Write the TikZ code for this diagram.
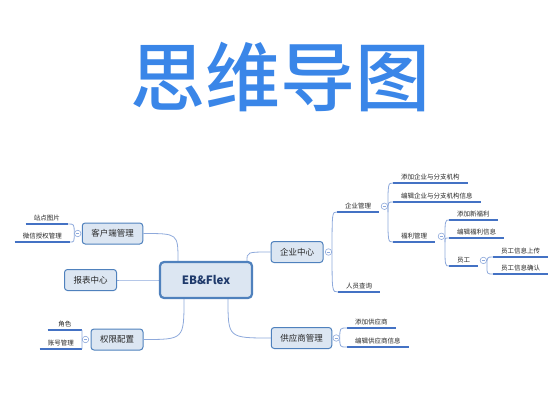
\documentclass[tikz,border=0pt]{standalone}
\usepackage{fontspec}
\setmainfont{Noto Sans CJK SC}
\newfontfamily\titlefont{Noto Sans CJK SC Medium}
\definecolor{titleblue}{RGB}{58,134,232}
\definecolor{boxfill}{RGB}{220,230,242}
\definecolor{boxdraw}{RGB}{79,129,189}
\definecolor{rootblue}{RGB}{31,58,107}
\definecolor{linkblue}{RGB}{142,169,219}
\definecolor{ulblue}{RGB}{68,114,196}

\begin{document}
\begin{tikzpicture}[x=1pt,y=-1pt,
    title/.style={text=titleblue,font=\fontsize{75}{75}\titlefont},
    root/.style={rectangle,rounded corners=4pt,draw=boxdraw,line width=2.2pt,fill=boxfill,minimum width=92pt,minimum height=36pt,text=rootblue,font=\fontsize{11.5}{12}\selectfont\bfseries},
    topic/.style={rectangle,rounded corners=3pt,draw=boxdraw,line width=1pt,fill=boxfill,minimum height=21pt,inner xsep=9pt,text=black!85,font=\fontsize{8.5}{9}\selectfont},
    leaf/.style={inner xsep=8pt,inner ysep=2.5pt,anchor=south west,text=black!85,font=\fontsize{6.5}{7}\selectfont},
    lleaf/.style={leaf,anchor=south east},
    fold/.style={circle,draw=linkblue,fill=white,line width=0.6pt,minimum size=6.5pt,inner sep=0pt,
        path picture={\draw[linkblue,line width=0.5pt] ([xshift=-1.6pt]path picture bounding box.center) -- ([xshift=1.6pt]path picture bounding box.center);}},
    branch/.style={draw=linkblue,line width=0.8pt,to path={.. controls (\tikztostart |- \tikztotarget) .. (\tikztotarget)}},
    ul/.style={draw=ulblue,line width=1.2pt}]
    \useasboundingbox (0,0) rectangle (560,420);

    \node[title] (t) at (280,77) {思维导图};

    \node[root] (c) at (206,280) {EB\&Flex};
    \node[topic] (k) at (112.5,233.5) {客户端管理};
    \node[topic] (b) at (90.5,280) {报表中心};
    \node[topic] (q) at (117,339.5) {权限配置};
    \node[topic] (e) at (297,252) {企业中心};
    \node[topic] (g) at (301.5,338) {供应商管理};

    \node[lleaf] (k1) at (68,224) {站点图片};
    \node[lleaf] (k2) at (70,242) {微信授权管理};
    \node[lleaf,minimum width=34pt] (q1) at (82,330) {角色};
    \node[lleaf] (q2) at (82,349) {账号管理};

    \node[leaf] (e1) at (337,212) {企业管理};
    \node[leaf] (e2) at (338,292) {人员查询};
    \node[leaf] (e11) at (393,183) {添加企业与分支机构};
    \node[leaf] (e12) at (393,202) {编辑企业与分支机构信息};
    \node[leaf] (e13) at (393,242) {福利管理};
    \node[leaf] (w1) at (449,220) {添加新福利};
    \node[leaf] (w2) at (449,238) {编辑福利信息};
    \node[leaf] (w3) at (449,266) {员工};
    \node[leaf] (y1) at (493,257) {员工信息上传};
    \node[leaf] (y2) at (493,274) {员工信息确认};
    \node[leaf] (g1) at (347,328) {添加供应商};
    \node[leaf] (g2) at (347,347) {编辑供应商信息};

    \node[fold] (kf) at ([xshift=-4pt]k.west) {};
    \node[fold] (qf) at ([xshift=-5pt]q.west) {};
    \node[fold] (ef) at ([xshift=5pt]e.east) {};
    \node[fold] (gf) at ([xshift=4pt]g.east) {};
    \node[fold] (e1f) at ([xshift=5pt]e1.east) {};
    \node[fold] (e13f) at ([xshift=6pt]e13.east) {};
    \node[fold] (w3f) at ([xshift=5pt]w3.east) {};

    \coordinate (ck) at ([xshift=-28pt]c.north);
    \coordinate (cq) at ([xshift=-22pt]c.south);
    \coordinate (ce) at ([xshift=41pt]c.north);
    \coordinate (cg) at ([xshift=22pt]c.south);
    \coordinate (e1s) at (e1f.east |- e1.south);
    \coordinate (e13s) at (e13f.east |- e13.south);
    \coordinate (w3s) at (w3f.east |- w3.south);

    \foreach \n in {k1,k2,q1,q2,e1,e2,e11,e12,e13,w1,w2,w3,y1,y2,g1,g2}
        \draw[ul] (\n.south west) -- (\n.south east);

    \path
    (ck) edge[branch] (k.east)
    (c.west) edge[branch] (b.east)
    (cq) edge[branch] (q.east)
    (ce) edge[branch] (e.west)
    (cg) edge[branch] (g.west)

    (kf.west) edge[branch] (k1.south east)
    (kf.west) edge[branch] (k2.south east)
    (qf.west) edge[branch] (q1.south east)
    (qf.west) edge[branch] (q2.south east)

    (ef.east) edge[branch] (e1.south west)
    (ef.east) edge[branch] (e2.south west)
    (e1s) edge[branch] (e11.south west)
    (e1s) edge[branch] (e12.south west)
    (e1s) edge[branch] (e13.south west)
    (e13s) edge[branch] (w1.south west)
    (e13s) edge[branch] (w2.south west)
    (e13s) edge[branch] (w3.south west)
    (w3s) edge[branch] (y1.south west)
    (w3s) edge[branch] (y2.south west)

    (gf.east) edge[branch] (g1.south west)
    (gf.east) edge[branch] (g2.south west)
    ;
\end{tikzpicture}
\end{document}
